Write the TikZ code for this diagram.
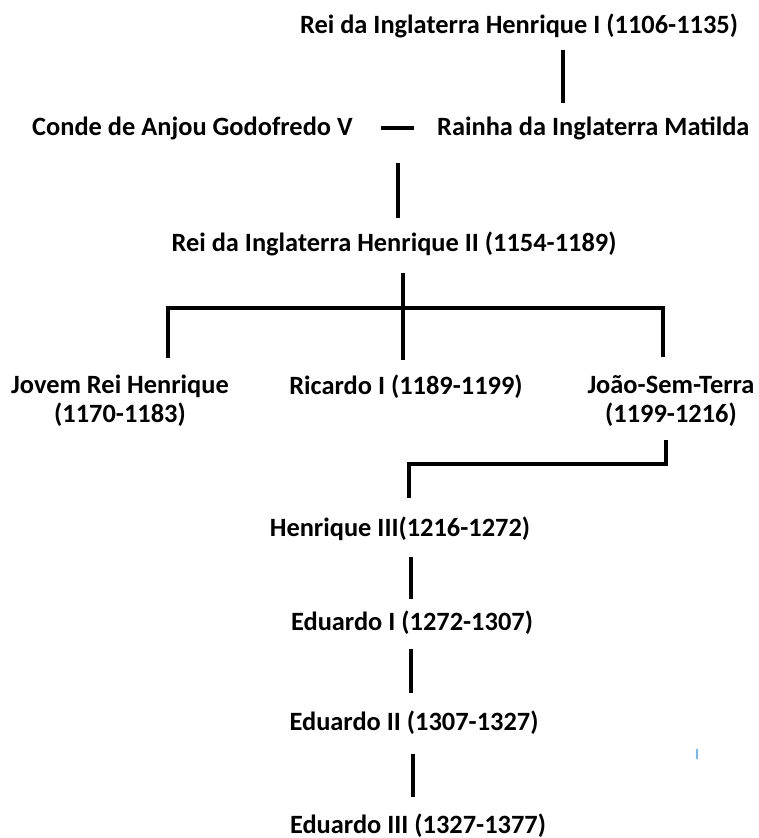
\documentclass[tikz,border=0pt]{standalone}
\usepackage{fontspec}
\setmainfont{Carlito}
\definecolor{stray}{RGB}{110,185,250}
\begin{document}
\begin{tikzpicture}[x=1pt,y=-1pt,
  lbl/.style={font=\fontsize{26.4}{29}\selectfont\bfseries, inner sep=0pt, anchor=base, align=center},
  link/.style={line width=4pt, line cap=butt}]
\useasboundingbox (0,0) rectangle (758,838);
% people
\node[lbl] (h1) at (519,33) {Rei da Inglaterra Henrique I (1106-1135)};
\node[lbl, anchor=base west] (conde) at (32,135.5) {Conde de Anjou Godofredo V};
\node[lbl, anchor=base west] (matilda) at (437,135.5) {Rainha da Inglaterra Matilda};
\node[lbl] (h2) at (394,251.5) {Rei da Inglaterra Henrique II (1154-1189)};
\node[lbl] (jovem) at (120,422) {Jovem Rei Henrique\\(1170-1183)};
\node[lbl] (ricardo) at (406,394) {Ricardo I (1189-1199)};
\node[lbl] (joao) at (671,422) {João-Sem-Terra\\(1199-1216)};
\node[lbl] (h3) at (400,536.5) {Henrique III(1216-1272)};
\node[lbl] (e1) at (412,630.5) {Eduardo I (1272-1307)};
\node[lbl] (e2) at (414,730.5) {Eduardo II (1307-1327)};
\node[lbl] (e3) at (418,833) {Eduardo III (1327-1377)};
% connector ends
\coordinate (a1) at (563,50);  \coordinate (a2) at (563,103);
\coordinate (m1) at (381,128); \coordinate (m2) at (414,128);
\coordinate (b1) at (398,163); \coordinate (b2) at (398,218);
\coordinate (c1) at (403,273); \coordinate (c2) at (403,360);
\coordinate (cl) at (168,358); \coordinate (cr) at (663,357);
\coordinate (d1) at (666,440); \coordinate (d2) at (409,498);
\coordinate (f1) at (411,557); \coordinate (f2) at (411,599);
\coordinate (g1) at (411,649); \coordinate (g2) at (411,693);
\coordinate (k1) at (413,754); \coordinate (k2) at (413,797);
% connectors
\draw[link] (a1) -- (a2);
\draw[link] (m1) -- (m2);
\draw[link] (b1) -- (b2);
\draw[link] (c1) -- (c2);
\draw[link] (cl) -- (cl |- 0,308) -- (cr |- 0,308) -- (cr);
\draw[link] (d1) -- (d1 |- 0,464) -- (d2 |- 0,464) -- (d2);
\draw[link] (f1) -- (f2);
\draw[link] (g1) -- (g2);
\draw[link] (k1) -- (k2);
% stray mark
\draw[stray, line width=1.5pt] (697,749) -- (697,759);
\end{tikzpicture}
\end{document}
